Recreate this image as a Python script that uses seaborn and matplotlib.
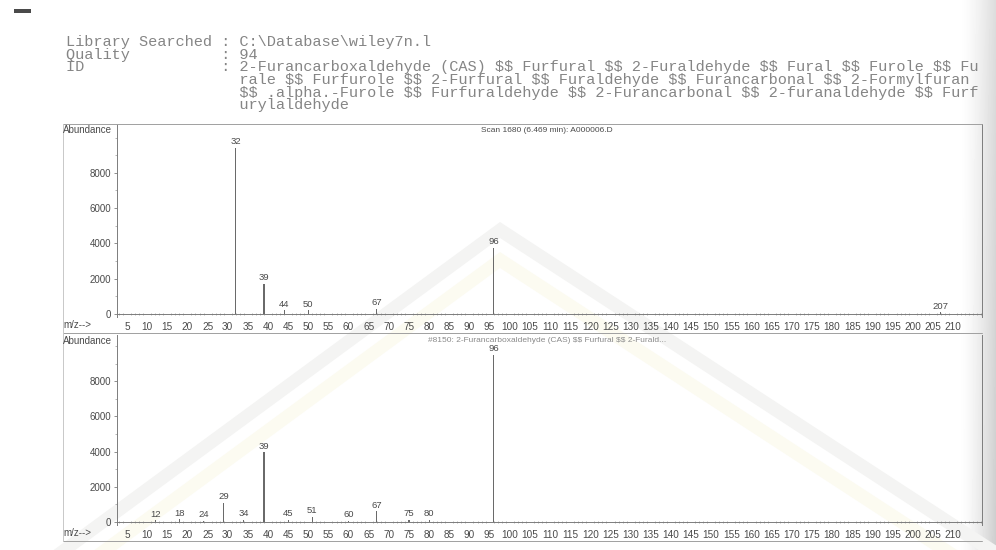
import numpy as np
import pandas as pd
import matplotlib
matplotlib.use("Agg")
import matplotlib.pyplot as plt
from matplotlib.lines import Line2D
from matplotlib.patches import Polygon, Rectangle
from matplotlib.ticker import MultipleLocator, FixedLocator
import seaborn as sns

# ---- report header ----
library_path = r"C:\Database\wiley7n.l"
quality = "94"
id_lines = [
    "2-Furancarboxaldehyde (CAS) $$ Furfural $$ 2-Furaldehyde $$ Fural $$ Furole $$ Fu",
    "rale $$ Furfurole $$ 2-Furfural $$ Furaldehyde $$ Furancarbonal $$ 2-Formylfuran",
    "$$ .alpha.-Furole $$ Furfuraldehyde $$ 2-Furancarbonal $$ 2-furanaldehyde $$ Furf",
    "urylaldehyde",
]
sample_title = "Scan 1680 (6.469 min): A000006.D"
library_title = "#8150: 2-Furancarboxaldehyde (CAS) $$ Furfural $$ 2-Furald..."

# ---- sample scan (upper spectrum) ----
sample_mz = [32, 39, 44, 50, 67, 96, 207]
sample_abundance = [9400, 1700, 200, 200, 280, 3750, 100]
sample_labeled = [32, 39, 44, 50, 67, 96, 207]

# ---- library reference spectrum (lower spectrum) ----
library_mz = [12, 18, 24, 29, 34, 39, 45, 51, 60, 67, 75, 80, 96]
library_abundance = [100, 150, 80, 1100, 120, 3950, 120, 300, 80, 600, 120, 120, 9500]
library_labeled = [12, 18, 24, 29, 34, 39, 45, 51, 60, 67, 75, 80, 96]

mz_ticks = list(range(5, 215, 5))
abundance_ticks = [0, 2000, 4000, 6000, 8000]

sns.set_theme(style="white")
plt.rcParams["font.family"] = ["Liberation Sans", "DejaVu Sans"]

W, H = 996, 550
fig = plt.figure(figsize=(W / 100, H / 100), dpi=100)
fig.patch.set_facecolor("white")

# ---- paper background: scanned page edge and faint roof-shaped bands ----
bg = fig.add_axes([0, 0, 1, 1], zorder=-10)
bg.set_xlim(0, W)
bg.set_ylim(H, 0)
bg.axis("off")
xx = np.arange(W)
yy = np.arange(H)
shade = np.ones((H, W))
edge = np.clip((xx - 958) / 38.0, 0, 1) ** 1.5
shade -= 0.20 * edge[None, :] * (0.7 + 0.3 * (yy[:, None] / H))
bg.imshow(shade, cmap="gray", vmin=0, vmax=1, extent=[0, W, H, 0], aspect="auto",
          interpolation="bilinear")
bg.add_patch(Rectangle((14, 9), 17, 4, color="#4a4a4a", lw=0))


def band(x0, y0, x1, y1, thick, color):
    return Polygon([(x0, y0), (x1, y1), (x1, y1 + thick), (x0, y0 + thick)],
                   closed=True, color=color, lw=0)


for off, col in [(0, "#f4f4f3"), (30, "#fcfbf1")]:
    bg.add_patch(band(40, 560 + off, 500, 222 + off, 16, col))
    bg.add_patch(band(500, 222 + off, 1000, 548 + off, 16, col))

# ---- header text ----
mono = dict(family="Liberation Mono", fontsize=11, color="#858585", parse_math=False)
hx = 66
rows = [
    "Library Searched : " + library_path,
    "Quality          : " + quality,
    "ID               : " + id_lines[0],
] + [" " * 19 + line for line in id_lines[1:]]
for i, row in enumerate(rows):
    fig.text(hx / W, 1 - (42 + i * 12.7) / H, row, ha="left", va="center", **mono)

# ---- spectrum panels ----
MZ0_PX, PX_PER_MZ = 106.85, 4.029
AX_LEFT, AX_RIGHT, FRAME_LEFT = 117, 982, 63
line_col = "#7c7c7c"
text_col = "#4a4a4a"


def add_axes_px(left, top, right, bottom):
    return fig.add_axes([left / W, 1 - bottom / H, (right - left) / W, (bottom - top) / H])


def draw_panel(top, base, bottom, px_per_unit, mz, ab, labeled, title, title_col):
    ax = add_axes_px(AX_LEFT, top, AX_RIGHT, bottom)
    ax.patch.set_alpha(0)
    df = pd.DataFrame({"mz": mz, "abundance": ab})
    gap = np.diff(sorted(mz)).min()
    sns.barplot(data=df, x="mz", y="abundance", native_scale=True, width=0.3 / gap,
                color="#6a6a6a", saturation=1, linewidth=0, errorbar=None, ax=ax)
    ax.set_xlim((AX_LEFT - MZ0_PX) / PX_PER_MZ, (AX_RIGHT - MZ0_PX) / PX_PER_MZ)
    ax.set_ylim(-(bottom - base) / px_per_unit, (base - top) / px_per_unit)
    ax.set_xlabel("")
    ax.set_ylabel("")
    for m, a in zip(mz, ab):
        if m in labeled:
            ax.annotate(str(m), (m, a), xytext=(0, 1.2), textcoords="offset points",
                        ha="center", va="bottom", fontsize=6.8, color=text_col)
    ax.spines["bottom"].set_position(("data", 0))
    ax.spines["top"].set_visible(False)
    for s in ["left", "right", "bottom"]:
        ax.spines[s].set_color(line_col)
        ax.spines[s].set_linewidth(0.7)
    ax.xaxis.set_major_locator(FixedLocator(mz_ticks))
    ax.xaxis.set_minor_locator(MultipleLocator(1))
    ax.yaxis.set_major_locator(FixedLocator(abundance_ticks))
    ax.yaxis.set_minor_locator(MultipleLocator(1000))
    ax.set_xticklabels([str(t) for t in mz_ticks])
    ax.set_yticklabels([str(t) for t in abundance_ticks])
    ax.tick_params(axis="x", which="major", direction="inout", length=3, width=0.6,
                   color=line_col, labelsize=7.2, labelcolor=text_col, pad=4.3)
    ax.tick_params(axis="x", which="minor", direction="inout", length=1.6, width=0.5,
                   color="#9a9a9a", bottom=True)
    ax.tick_params(axis="y", which="major", direction="out", length=2.5, width=0.6,
                   color=line_col, labelsize=7.0, labelcolor=text_col, pad=1.5, left=True)
    ax.tick_params(axis="y", which="minor", direction="out", length=1.5, width=0.5,
                   color="#9a9a9a", left=True)
    ax.grid(False)
    # panel captions
    fig.text(FRAME_LEFT / W, 1 - (top + 6) / H, "Abundance", fontsize=7.0, color=text_col,
             ha="left", va="center")
    fig.text(FRAME_LEFT / W, 1 - (base + 11) / H, "m/z-->", fontsize=7.0, color=text_col,
             ha="left", va="center")
    fig.text(547 / W, 1 - (top + 6) / H, title, fontsize=6.0, color=title_col,
             ha="center", va="center", parse_math=False)
    return ax


ax_top = draw_panel(124, 314, 317, 35.3 / 2000, sample_mz, sample_abundance,
                    sample_labeled, sample_title, "#4a4a4a")
ax_bot = draw_panel(335, 522, 525, 35.2 / 2000, library_mz, library_abundance,
                    library_labeled, library_title, "#8a8a8a")

# ---- outer frame of the report ----
for y in [124, 333, 541]:
    fig.add_artist(Line2D([FRAME_LEFT / W, AX_RIGHT / W], [1 - y / H, 1 - y / H],
                          color="#a0a0a0", lw=0.7))
fig.add_artist(Line2D([FRAME_LEFT / W, FRAME_LEFT / W], [1 - 124 / H, 1 - 541 / H],
                      color="#c8c8c8", lw=0.7))

fig.savefig("out.png", dpi=100)
